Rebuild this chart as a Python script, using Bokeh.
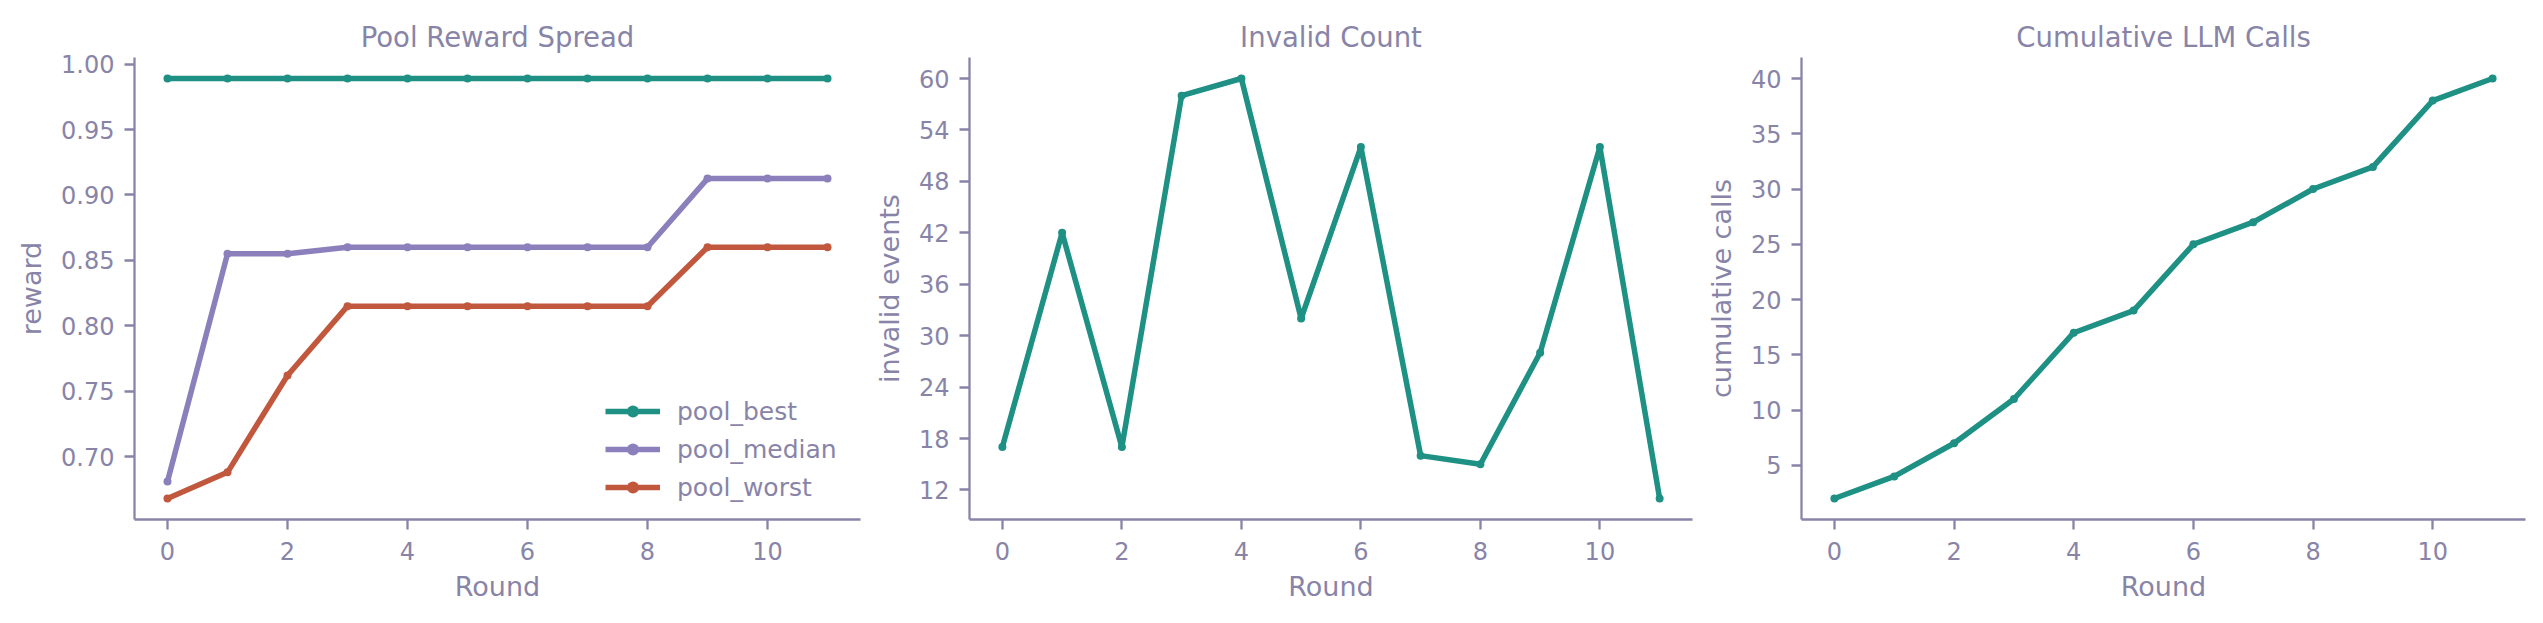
from bokeh.plotting import figure
from bokeh.layouts import row
from bokeh.models import Range1d, FixedTicker, NumeralTickFormatter, Legend, LegendItem
from bokeh.embed import file_html
from bokeh.resources import INLINE

# ---- data ----
rounds = [0, 1, 2, 3, 4, 5, 6, 7, 8, 9, 10, 11]
pool_best = [0.989, 0.989, 0.989, 0.989, 0.989, 0.989, 0.989, 0.989, 0.989, 0.989, 0.989, 0.989]
pool_median = [0.681, 0.855, 0.855, 0.860, 0.860, 0.860, 0.860, 0.860, 0.860, 0.9125, 0.9125, 0.9125]
pool_worst = [0.668, 0.688, 0.762, 0.815, 0.815, 0.815, 0.815, 0.815, 0.815, 0.860, 0.860, 0.860]
invalid_events = [17, 42, 17, 58, 60, 32, 52, 16, 15, 28, 52, 11]
cumulative_calls = [2, 4, 7, 11, 17, 19, 25, 27, 30, 32, 38, 40]

x_ticks = [0, 2, 4, 6, 8, 10]
reward_ticks = [0.70, 0.75, 0.80, 0.85, 0.90, 0.95, 1.00]
invalid_ticks = [12, 18, 24, 30, 36, 42, 48, 54, 60]
calls_ticks = [5, 10, 15, 20, 25, 30, 35, 40]

TEAL = "#1e9084"
PURPLE = "#8b80bb"
RED = "#c1583e"
INK = "#8884a8"
FONT = "DejaVu Sans"


def padded(values, frac=0.05):
    lo, hi = min(values), max(values)
    d = (hi - lo) * frac
    return lo - d, hi + d


def make_fig(title, ylabel, width, left, yvals, yticks):
    p = figure(width=width, height=614, output_backend="svg", toolbar_location=None,
               min_border_left=left, min_border_right=10, min_border_top=57, min_border_bottom=95)
    xs, xe = padded(rounds)
    ys, ye = padded(yvals)
    p.x_range = Range1d(xs, xe)
    p.y_range = Range1d(ys, ye)
    p.outline_line_color = None
    p.xgrid.visible = False
    p.ygrid.visible = False
    p.background_fill_color = "white"
    p.border_fill_color = "white"
    p.title.text = title
    p.title.align = "center"
    p.title.text_font = FONT
    p.title.text_font_size = "27.5px"
    p.title.text_font_style = "normal"
    p.title.text_color = INK
    p.title.standoff = 9
    p.xaxis.axis_label = "Round"
    p.yaxis.axis_label = ylabel
    p.xaxis.ticker = FixedTicker(ticks=x_ticks)
    p.yaxis.ticker = FixedTicker(ticks=yticks)
    for ax in (p.xaxis[0], p.yaxis[0]):
        ax.axis_line_color = INK
        ax.axis_line_width = 2.3
        ax.major_tick_line_color = INK
        ax.major_tick_line_width = 2.3
        ax.major_tick_out = 10
        ax.major_tick_in = 0
        ax.minor_tick_line_color = None
        ax.major_label_text_font = FONT
        ax.major_label_text_font_size = "24px"
        ax.major_label_text_color = INK
        ax.axis_label_text_font = FONT
        ax.axis_label_text_font_size = "27px"
        ax.axis_label_text_font_style = "normal"
        ax.axis_label_text_color = INK
    p.xaxis.major_label_standoff = 12
    p.yaxis.major_label_standoff = 10
    p.xaxis.axis_label_standoff = 8
    p.yaxis.axis_label_standoff = 11
    return p


# ---- panel 1 ----
p1 = make_fig("Pool Reward Spread", "reward", 870, 134,
              pool_best + pool_median + pool_worst, reward_ticks)
p1.yaxis.formatter = NumeralTickFormatter(format="0.00")
items = []
for name, vals, col in (("pool_best", pool_best, TEAL),
                        ("pool_median", pool_median, PURPLE),
                        ("pool_worst", pool_worst, RED)):
    r1 = p1.line(rounds, vals, line_color=col, line_width=5.5, line_join="round")
    r2 = p1.scatter(rounds, vals, marker="circle", size=8, fill_color=col, line_color=None)
    items.append(LegendItem(label=name, renderers=[r1, r2]))
legend = Legend(items=items, location=(471, 17), padding=0, margin=0,
                border_line_color=None, background_fill_alpha=0,
                glyph_width=55, glyph_height=30, label_height=30, spacing=8,
                label_standoff=17, label_text_font=FONT, label_text_font_size="25px",
                label_text_color=INK)
p1.add_layout(legend)

# ---- panel 2 ----
p2 = make_fig("Invalid Count", "invalid events", 832, 96, invalid_events, invalid_ticks)
p2.line(rounds, invalid_events, line_color=TEAL, line_width=5.5, line_join="round")
p2.scatter(rounds, invalid_events, marker="circle", size=8, fill_color=TEAL, line_color=None)

# ---- panel 3 ----
p3 = make_fig("Cumulative LLM Calls", "cumulative calls", 833, 97, cumulative_calls, calls_ticks)
p3.line(rounds, cumulative_calls, line_color=TEAL, line_width=5.5, line_join="round")
p3.scatter(rounds, cumulative_calls, marker="circle", size=8, fill_color=TEAL, line_color=None)

layout = row(p1, p2, p3)
open("out.html", "w").write(file_html(layout, INLINE))
